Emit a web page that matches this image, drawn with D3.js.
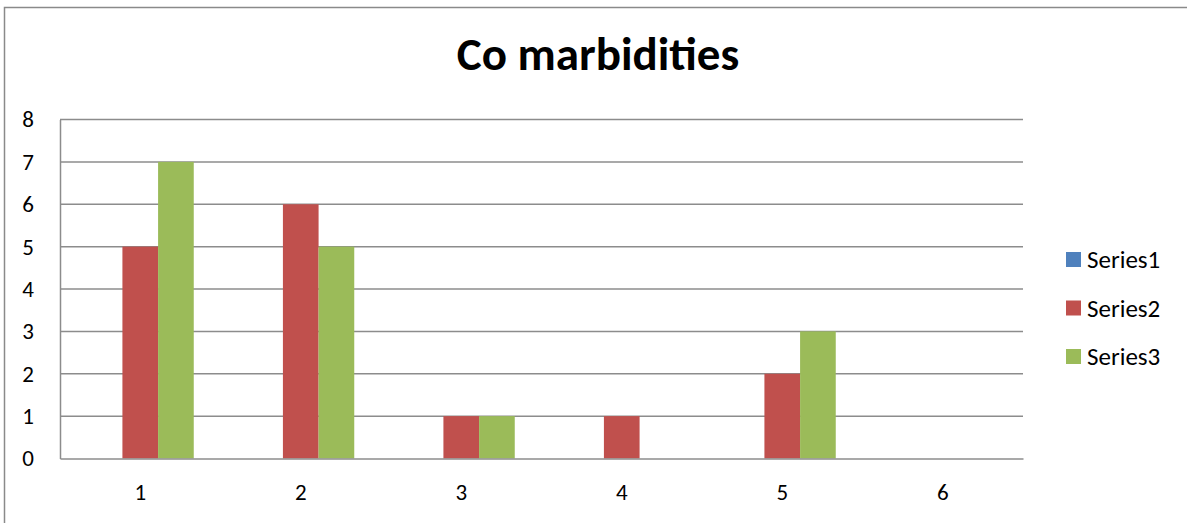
<!DOCTYPE html>
<html>
<head>
<meta charset="utf-8">
<script src="https://cdn.jsdelivr.net/npm/d3@7"></script>
<style>
  html, body { margin: 0; padding: 0; background: #fff; }
  svg { display: block; font-family: Carlito, Calibri, Lato, "Open Sans", sans-serif; }
</style>
</head>
<body>
<svg id="chart" width="1187" height="523"></svg>
<script>
// Chart data
const categories = [1, 2, 3, 4, 5, 6];
const seriesNames = ["Series1", "Series2", "Series3"];
const series1 = [0, 0, 0, 0, 0, 0];
const series2 = [5, 6, 1, 1, 2, 0];
const series3 = [7, 5, 1, 0, 3, 0];
const yTicks = [0, 1, 2, 3, 4, 5, 6, 7, 8];
const chartTitle = "Co marbidities";

const seriesValues = [series1, series2, series3];
const colors = ["#4F81BD", "#C0504D", "#9BBB59"];

const svg = d3.select("#chart");

// Outer chart frame (right and bottom edges run past the view)
svg.append("rect")
  .attr("x", 4.5).attr("y", 7.5)
  .attr("width", 1200).attr("height", 540)
  .attr("fill", "none")
  .attr("stroke", "#8a8a8a")
  .attr("stroke-width", 1.5);

const plot = { left: 60, right: 1023, top: 119.5, bottom: 458.5 };

const x0 = d3.scaleBand()
  .domain(categories)
  .range([plot.left, plot.right])
  .padding(0);

// Excel-style gap width of 150% of one bar
const barW = x0.bandwidth() / 4.5;
const x1 = d3.scaleBand()
  .domain(seriesNames)
  .range([barW * 0.75, x0.bandwidth() - barW * 0.75])
  .padding(0);

const y = d3.scaleLinear()
  .domain([0, 8])
  .range([plot.bottom, plot.top]);

// Horizontal gridlines
svg.append("g")
  .selectAll("line")
  .data(yTicks.filter(t => t > 0))
  .join("line")
  .attr("x1", plot.left).attr("x2", plot.right)
  .attr("y1", d => y(d)).attr("y2", d => y(d))
  .attr("stroke", "#8c8c8c")
  .attr("stroke-width", 1.5);

// Bars
const rows = categories.map((c, i) => ({
  cat: c,
  vals: seriesNames.map((s, j) => ({ s, j, v: seriesValues[j][i] }))
}));

svg.append("g")
  .selectAll("g")
  .data(rows)
  .join("g")
  .attr("transform", d => `translate(${x0(d.cat)},0)`)
  .selectAll("rect")
  .data(d => d.vals.filter(v => v.v > 0))
  .join("rect")
  .attr("x", d => x1(d.s))
  .attr("width", x1.bandwidth())
  .attr("y", d => y(d.v))
  .attr("height", d => y(0) - y(d.v))
  .attr("fill", d => colors[d.j]);

// Axes
const yAxis = d3.axisLeft(y).tickValues(yTicks).tickSize(0).tickPadding(26);
const gy = svg.append("g")
  .attr("transform", `translate(${plot.left},0)`)
  .call(yAxis);
gy.select(".domain").attr("stroke", "#8c8c8c").attr("stroke-width", 1.5);
gy.selectAll("text")
  .attr("font-size", 23)
  .attr("fill", "#000")
  .attr("font-family", "Carlito, Calibri, Lato, sans-serif");

const xAxis = d3.axisBottom(x0).tickSize(0).tickPadding(25);
const gx = svg.append("g")
  .attr("transform", `translate(0,${plot.bottom})`)
  .call(xAxis);
gx.select(".domain").attr("stroke", "#8c8c8c").attr("stroke-width", 1.5);
gx.selectAll("text")
  .attr("font-size", 23)
  .attr("fill", "#000")
  .attr("font-family", "Carlito, Calibri, Lato, sans-serif");

// Title
svg.append("text")
  .attr("x", 598).attr("y", 70)
  .attr("text-anchor", "middle")
  .attr("font-size", 47)
  .attr("font-weight", "bold")
  .attr("fill", "#000")
  .text(chartTitle);

// Legend
const legend = svg.append("g")
  .selectAll("g")
  .data(seriesNames)
  .join("g")
  .attr("transform", (d, i) => `translate(1066,${259.5 + i * 48.5})`);
legend.append("rect")
  .attr("x", 0).attr("y", -7.5)
  .attr("width", 15).attr("height", 15)
  .attr("fill", (d, i) => colors[i]);
legend.append("text")
  .attr("x", 21).attr("y", 0)
  .attr("dominant-baseline", "central")
  .attr("font-size", 25)
  .attr("fill", "#000")
  .text(d => d);
</script>
</body>
</html>
